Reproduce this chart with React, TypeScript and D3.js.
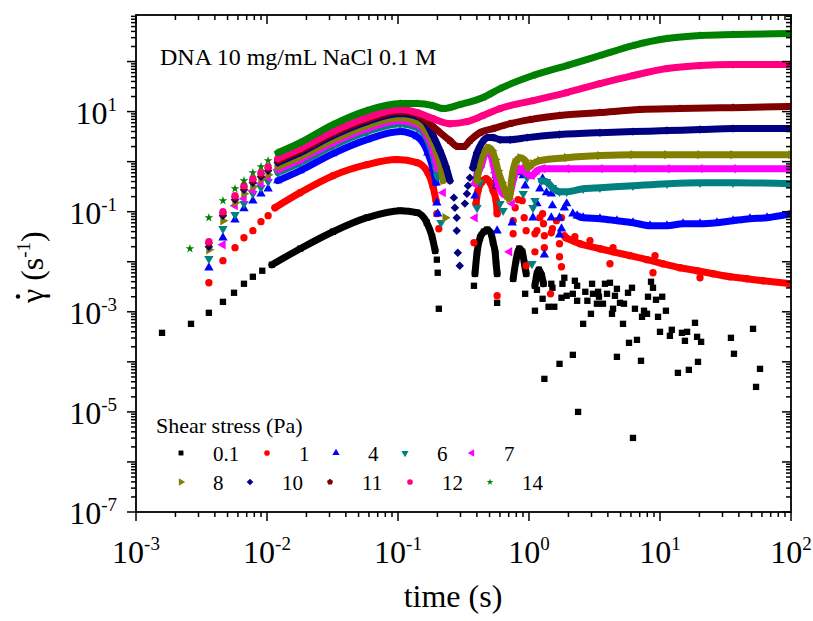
import React from 'react';
import * as d3 from 'd3';

type P = [number, number];

// ---------------- tick labels / categories ----------------
const xTickExps = [-3, -2, -1, 0, 1, 2];
const yTickExps = [-7, -5, -3, -1, 1];
const seriesLabels = ['0.1', '1', '4', '6', '7', '8', '10', '11', '12', '14'];
const seriesColors = ['#000000', '#FF0000', '#0000FF', '#008080', '#FF00FF', '#808000', '#000080', '#800000', '#FF0080', '#008000'];
const seriesSymbols = ['square', 'circle', 'triUp', 'triDown', 'triLeft', 'triRight', 'diamond', 'pentagon', 'circle', 'star'];

// ---------------- data: [time (s), shear rate (1/s)] ----------------
// 0.1 Pa
const blackScatter: P[] = [
  [1.58e-3, 3.8e-4], [2.63e-3, 5.75e-4], [3.6e-3, 9.55e-4], [4.61e-3, 1.58e-3], [5.6e-3, 2.4e-3], [6.67e-3, 3.63e-3], [7.8e-3, 5.01e-3], [9.2e-3, 6.61e-3],
  [0.198, 0.011], [0.201, 0.00603], [0.205, 0.00115], [0.38, 0.00331], [0.571, 0.00151], [0.935, 0.00229],
  [1.11, 0.00105], [1.15, 0.00275], [1.27, 0.00182], [1.31, 4.57e-5], [1.41, 0.00126], [1.48, 0.00363], [1.51, 0.00302], [1.56, 0.00126],
  [1.71, 9.12e-5], [1.77, 0.00191], [1.8, 0.00363], [1.86, 0.00479], [1.94, 0.00209], [2.16, 1.38e-4], [2.16, 0.00229], [2.24, 0.00417],
  [2.33, 0.00331], [2.33, 0.00166], [2.37, 1e-5], [2.59, 5.75e-4], [2.69, 0.00251], [2.79, 0.00166], [2.97, 9.12e-4], [3.03, 0.00363],
  [3.08, 0.00229], [3.3, 0.00145], [3.37, 0.00251], [3.42, 0.002], [3.67, 0.00145], [3.8, 0.00363], [3.94, 0.00229], [4.15, 0.0038],
  [4.3, 9.12e-4], [4.38, 0.00115], [4.53, 0.00209], [4.69, 0.00288], [4.69, 1.26e-4], [4.95, 0.00151], [5.22, 5.75e-4], [5.31, 0.00145],
  [5.7, 0.0024], [5.8, 2.4e-4], [6.11, 0.00302], [6.22, 3.02e-6], [6.44, 0.00115], [6.67, 2.75e-4], [7.16, 1.05e-4], [7.29, 7.94e-4],
  [7.55, 0.00105], [7.96, 9.12e-4], [8.1, 0.002], [8.54, 0.00398], [8.84, 0.00302], [9.32, 0.00174], [9.66, 7.94e-4], [10.0, 3.98e-4],
  [10.4, 0.002], [11.1, 0.00105], [11.9, 3.31e-4], [12.3, 4.37e-4], [13.7, 6.03e-5], [14.7, 3.8e-4], [15.5, 2.63e-4], [16.1, 3.98e-4],
  [16.6, 6.92e-5], [18.5, 6.03e-4], [19.2, 3.16e-4], [19.5, 1e-4], [20.6, 2.51e-4], [34.8, 3.02e-4], [36.7, 1.45e-4], [51.3, 4.57e-4],
  [54.1, 3.16e-5], [58.0, 7.24e-5],
];
const blackDense: P[][] = [
  [[1.09e-2, 8.71e-3], [1.79e-2, 1.82e-2], [3.19e-2, 0.0398], [5.79e-2, 0.0759], [0.104, 0.105], [0.14, 0.0955], [0.166, 0.0603], [0.182, 0.0316], [0.192, 0.0166]],
  [[0.387, 0.00575], [0.401, 0.0151], [0.423, 0.0302], [0.453, 0.0398], [0.479, 0.0437], [0.514, 0.0363], [0.532, 0.024], [0.552, 0.0151], [0.561, 0.00912], [0.571, 0.00575]],
  [[0.757, 0.00457], [0.796, 0.0105], [0.841, 0.0182], [0.888, 0.0158], [0.919, 0.00955], [0.951, 0.00575]],
  [[1.11, 0.00331], [1.15, 0.00575], [1.19, 0.00692], [1.25, 0.00525], [1.29, 0.00363]],
];
// 1 Pa
const redScatter: P[] = [
  [3.6e-3, 0.0038], [4.61e-3, 0.0105], [5.7e-3, 0.0191], [6.67e-3, 0.0302], [7.8e-3, 0.0417], [9.0e-3, 0.0631], [1.02e-2, 0.0832],
  [0.198, 0.0912], [0.205, 0.0457], [0.38, 0.024], [0.571, 0.00209], [0.757, 0.0661], [0.785, 0.12], [0.827, 0.174], [0.888, 0.166],
  [0.919, 0.0759], [0.951, 0.0417], [0.757, 0.0363], [0.951, 0.00832], [1.11, 0.0158], [1.15, 0.0417], [1.21, 0.0759], [1.27, 0.0912],
  [1.29, 0.0575], [1.31, 0.0331], [1.31, 0.0191], [1.46, 0.00229], [1.11, 0.0363], [1.48, 0.038], [1.51, 0.0457], [1.62, 0.0661],
  [1.77, 0.0759], [1.71, 0.0229], [1.71, 0.0126], [1.77, 0.00794], [1.86, 0.0331], [4.15, 0.00912], [4.38, 0.0191], [8.84, 0.00603],
  [9.16, 0.0132], [20.2, 0.00479], [2.92, 0.0263], [2.24, 0.0316],
];
const redDense: P[][] = [
  [[1.15e-2, 0.12], [1.79e-2, 0.24], [3.19e-2, 0.525], [5.79e-2, 0.871], [0.098, 1.1], [0.14, 0.955], [0.169, 0.603], [0.185, 0.316], [0.195, 0.166]],
  [[0.394, 0.145], [0.408, 0.263], [0.438, 0.398], [0.47, 0.457], [0.505, 0.38], [0.532, 0.263], [0.561, 0.166], [0.571, 0.0912]],
  [[1.91, 0.0302], [2.45, 0.0229], [3.48, 0.0182], [4.38, 0.0158], [5.9, 0.0132], [7.96, 0.011], [10.5, 0.00912], [14.2, 0.00759],
   [19.2, 0.00661], [25.4, 0.00575], [34.2, 0.00501], [46.1, 0.00457], [61.1, 0.00417], [100, 0.00363]],
];
// 4 Pa
const blueScatter: P[] = [
  [3.6e-3, 0.00759], [4.61e-3, 0.0302], [5.7e-3, 0.0692], [6.67e-3, 0.115], [7.8e-3, 0.166], [9.0e-3, 0.229], [1.02e-2, 0.288],
  [0.198, 0.151], [0.201, 0.0912], [0.387, 0.209], [0.571, 0.0417], [0.744, 0.0603], [0.856, 0.603], [0.903, 0.525], [0.935, 0.331],
  [1.072, 0.0759], [1.15, 0.145], [1.21, 0.288], [1.27, 0.457], [1.36, 0.24], [1.48, 0.229], [1.51, 0.132], [1.48, 0.0759],
  [1.71, 0.0759], [1.77, 0.0457], [1.86, 0.12], [1.94, 0.145], [2.16, 0.0912], [1.31, 0.0138], [1.71, 0.0347],
];
const blueDense: P[][] = [
  [[1.21e-2, 0.417], [1.79e-2, 0.661], [3.19e-2, 1.45], [5.79e-2, 2.75], [0.104, 3.98], [0.14, 3.16], [0.169, 1.51], [0.185, 0.724], [0.195, 0.38]],
  [[0.401, 0.525], [0.415, 0.955], [0.446, 1.38], [0.479, 1.74], [0.514, 1.45], [0.541, 0.912], [0.561, 0.525], [0.571, 0.331]],
  [[2.33, 0.0832], [2.59, 0.0759], [3.48, 0.0724], [4.69, 0.0661], [6.22, 0.0603], [8.39, 0.0525], [11.3, 0.0525], [15.0, 0.0575],
   [20.2, 0.0575], [27.2, 0.0603], [36.1, 0.0661], [48.6, 0.0724], [65.6, 0.0759], [100, 0.0912]],
];
// 6 Pa
const tealScatter: P[] = [
  [3.6e-3, 0.0115], [4.61e-3, 0.0457], [5.7e-3, 0.0871], [6.67e-3, 0.145], [7.8e-3, 0.229], [9.0e-3, 0.302], [1.02e-2, 0.398],
  [0.213, 0.0603], [0.401, 0.12], [0.423, 0.38], [0.601, 0.145], [0.634, 0.105], [0.903, 0.229], [1.072, 0.12], [1.054, 0.00912],
  [0.813, 0.661], [0.968, 0.479], [1.11, 0.166],
];
const tealDense: P[][] = [
  [[1.21e-2, 0.603], [1.79e-2, 0.955], [3.19e-2, 2.09], [5.79e-2, 3.98], [0.104, 5.75], [0.14, 4.79], [0.169, 2.63], [0.188, 1.15], [0.201, 0.501]],
  [[1.25, 0.417], [1.36, 0.398], [1.51, 0.302], [1.71, 0.251], [1.94, 0.251], [2.59, 0.288], [3.48, 0.302], [6.22, 0.331],
   [11.3, 0.363], [20.2, 0.38], [36.1, 0.38], [100, 0.363]],
];
// 7 Pa
const magentaScatter: P[] = [
  [4.61e-3, 0.0219], [5.7e-3, 0.132], [6.67e-3, 0.182], [7.8e-3, 0.263], [9.0e-3, 0.363], [1.02e-2, 0.479],
  [0.221, 0.24], [0.387, 0.0759], [0.71, 0.0158], [0.744, 0.145],
];
const magentaDense: P[][] = [
  [[1.21e-2, 0.692], [1.79e-2, 1.1], [3.19e-2, 2.4], [5.79e-2, 4.57], [0.104, 6.61], [0.14, 5.5], [0.169, 3.16], [0.188, 1.51], [0.201, 0.724]],
  [[0.387, 0.363], [0.408, 0.575], [0.438, 0.912], [0.47, 1.66], [0.505, 1.45], [0.552, 0.603], [0.59, 0.316], [0.644, 0.219],
   [0.703, 0.209], [0.757, 0.417], [0.813, 0.724], [0.856, 0.661], [0.903, 0.759], [0.968, 0.575], [1.054, 0.525], [1.15, 0.661],
   [1.27, 0.724], [1.94, 0.724], [3.48, 0.724], [6.22, 0.724], [11.3, 0.724], [20.2, 0.724], [36.1, 0.724], [100, 0.724]],
];
// 8 Pa
const oliveScatter: P[] = [
  [3.6e-3, 0.0174], [4.61e-3, 0.0661], [5.7e-3, 0.151], [6.67e-3, 0.229], [7.8e-3, 0.316], [9.0e-3, 0.437], [1.02e-2, 0.55],
  [0.229, 0.0759],
];
const oliveDense: P[][] = [
  [[1.21e-2, 0.794], [1.79e-2, 1.26], [3.19e-2, 2.75], [5.79e-2, 5.25], [0.104, 7.59], [0.135, 6.61], [0.161, 4.57], [0.182, 2.63],
   [0.198, 1.45], [0.213, 0.759], [0.221, 0.417]],
  [[0.401, 0.417], [0.423, 0.955], [0.462, 1.58], [0.487, 1.91], [0.523, 1.66], [0.552, 1.1], [0.58, 0.661], [0.623, 0.38],
   [0.68, 0.209], [0.705, 0.182], [0.744, 0.525], [0.785, 0.955], [0.856, 1.2], [0.935, 1.05], [0.985, 0.759], [1.072, 0.912],
   [1.21, 1.05], [1.94, 1.2], [3.48, 1.32], [6.22, 1.38], [11.3, 1.38], [20.2, 1.38], [36.1, 1.38], [100, 1.38]],
];
// 10 Pa
const navyScatter: P[] = [
  [3.6e-3, 0.02], [4.61e-3, 0.0832], [5.7e-3, 0.174], [6.67e-3, 0.275], [7.8e-3, 0.38], [9.0e-3, 0.501], [1.02e-2, 0.661],
  [0.267, 0.191], [0.272, 0.12], [0.281, 0.0759], [0.281, 0.0417], [0.286, 0.0151], [0.296, 0.00832],
  [0.324, 0.145], [0.336, 0.229], [0.342, 0.331], [0.354, 0.479],
];
const navyDense: P[][] = [
  [[1.21e-2, 0.955], [1.79e-2, 1.51], [3.19e-2, 3.31], [5.79e-2, 6.31], [0.104, 9.12], [0.135, 8.32], [0.161, 6.31], [0.185, 3.31],
   [0.209, 1.66], [0.232, 0.794], [0.249, 0.417]],
  [[0.373, 0.759], [0.401, 1.51], [0.438, 2.4], [0.479, 3.02], [0.532, 3.02], [0.601, 2.75], [0.718, 2.75], [0.968, 3.02],
   [1.71, 3.47], [3.48, 3.8], [6.22, 3.98], [11.3, 4.17], [20.2, 4.37], [36.1, 4.57], [100, 4.57]],
];
// 11 Pa
const maroonScatter: P[] = [
  [3.6e-3, 0.0229], [4.61e-3, 0.0912], [5.7e-3, 0.191], [6.67e-3, 0.302], [7.8e-3, 0.417], [9.0e-3, 0.55], [1.02e-2, 0.724],
];
const maroonDense: P[][] = [
  [[1.21e-2, 1.05], [1.79e-2, 1.66], [3.19e-2, 3.63], [5.79e-2, 6.92], [0.104, 10], [0.135, 9.12], [0.161, 6.92], [0.201, 4.17],
   [0.249, 2.63], [0.286, 2.0], [0.319, 2.0], [0.354, 2.63], [0.423, 3.8], [0.532, 4.57], [0.718, 5.75], [1.02, 6.92],
   [1.71, 8.32], [3.48, 9.55], [7.03, 11.0], [14.2, 11.5], [36.1, 12.0], [100, 12.6]],
];
// 12 Pa
const pinkScatter: P[] = [
  [3.6e-3, 0.0251], [4.61e-3, 0.1], [5.7e-3, 0.209], [6.67e-3, 0.331], [7.8e-3, 0.457], [9.0e-3, 0.603], [1.02e-2, 0.794],
];
const pinkDense: P[][] = [
  [[1.21e-2, 1.15], [1.79e-2, 1.82], [3.19e-2, 3.98], [5.79e-2, 7.59], [0.104, 11.0], [0.14, 9.55], [0.185, 7.24], [0.249, 5.75],
   [0.336, 6.31], [0.446, 8.32], [0.601, 11.5], [1.072, 16.6], [1.94, 24.0], [3.48, 36.3], [6.22, 52.5], [11.3, 72.4],
   [20.2, 83.2], [36.1, 87.1], [100, 87.1]],
];
// 14 Pa
const greenScatter: P[] = [
  [2.58e-3, 0.0182], [3.6e-3, 0.0759], [4.61e-3, 0.166], [5.7e-3, 0.288], [6.67e-3, 0.417], [7.8e-3, 0.603], [9.0e-3, 0.794], [1.02e-2, 1.05],
];
const greenDense: P[][] = [
  [[1.21e-2, 1.51], [1.79e-2, 2.4], [3.19e-2, 5.5], [5.79e-2, 10.5], [0.104, 14.5], [0.14, 14.5], [0.185, 13.2], [0.221, 11.5],
   [0.296, 13.8], [0.446, 19.1], [0.601, 28.8], [1.072, 52.5], [1.94, 83.2], [3.48, 132], [6.22, 209], [11.3, 288],
   [20.2, 331], [36.1, 347], [100, 363]],
];

const seriesScatter = [blackScatter, redScatter, blueScatter, tealScatter, magentaScatter, oliveScatter, navyScatter, maroonScatter, pinkScatter, greenScatter];
const seriesDense = [blackDense, redDense, blueDense, tealDense, magentaDense, oliveDense, navyDense, maroonDense, pinkDense, greenDense];

// ---------------- layout ----------------
const W = 813;
const H = 621;
const L = 136, R = 791, T = 15, B = 512;
const FONT = "'Liberation Serif', 'Times New Roman', serif";

const symbolPentagon: d3.SymbolType = {
  draw(ctx: any, size: number) {
    const r = Math.sqrt(size / (2.5 * Math.sin((2 * Math.PI) / 5)));
    for (let i = 0; i < 5; i++) {
      const a = -Math.PI / 2 + (i * 2 * Math.PI) / 5;
      const px = r * Math.cos(a);
      const py = r * Math.sin(a);
      if (i === 0) ctx.moveTo(px, py);
      else ctx.lineTo(px, py);
    }
    ctx.closePath();
  },
};

const symbolDefs: Record<string, { type: d3.SymbolType; rot: number; size: number }> = {
  square: { type: d3.symbolSquare, rot: 0, size: 40 },
  circle: { type: d3.symbolCircle, rot: 0, size: 42 },
  triUp: { type: d3.symbolTriangle, rot: 0, size: 38 },
  triDown: { type: d3.symbolTriangle, rot: 180, size: 38 },
  triLeft: { type: d3.symbolTriangle, rot: -90, size: 38 },
  triRight: { type: d3.symbolTriangle, rot: 90, size: 38 },
  diamond: { type: d3.symbolSquare, rot: 45, size: 36 },
  pentagon: { type: symbolPentagon, rot: 0, size: 40 },
  star: { type: d3.symbolStar, rot: 0, size: 24 },
};

const legendRows = [
  { y: 453, xs: [181, 267, 336, 405, 472] },
  { y: 482, xs: [181, 250, 330, 410, 490] },
];

export default function App() {
  const x = d3.scaleLog().domain([1e-3, 1e2]).range([L, R]);
  const y = d3.scaleLog().domain([1e-7, Math.pow(10, 2.93)]).range([B, T]);

  const line = d3
    .line<P>()
    .x((d) => x(d[0]))
    .y((d) => y(d[1]))
    .curve(d3.curveMonotoneX);

  const xTicks = x.ticks();
  const yTicks: number[] = [];
  for (let e = -7; e <= 2; e++) {
    for (let k = 1; k <= 9; k++) {
      const v = k * Math.pow(10, e);
      if (v <= y.domain()[1]) yTicks.push(v);
    }
  }
  const isMajor = (v: number) => Math.abs(Math.log10(v) - Math.round(Math.log10(v))) < 1e-9;

  const legendItems = seriesLabels.map((lab, i) => {
    const row = i < 5 ? 0 : 1;
    return { lab, i, x: legendRows[row].xs[i % 5], y: legendRows[row].y };
  });

  return (
    <svg width={W} height={H} style={{ position: 'absolute', left: 0, top: 0, background: '#fff' }} fontFamily={FONT}>
      <defs>
        <clipPath id="plotclip">
          <rect x={L} y={T} width={R - L} height={B - T} />
        </clipPath>
      </defs>
      <rect x={0} y={0} width={W} height={H} fill="#fff" />

      <g clipPath="url(#plotclip)">
        {seriesLabels.map((lab, i) => {
          const col = seriesColors[i];
          const sd = symbolDefs[seriesSymbols[i]];
          const sp = d3.symbol().type(sd.type).size(sd.size)() || '';
          const pts: P[] = [...seriesScatter[i], ...seriesDense[i].flat()];
          return (
            <g key={lab}>
              {seriesDense[i].map((seg, j) => (
                <path key={j} d={line(seg) || ''} fill="none" stroke={col} strokeWidth={7} strokeLinejoin="round" strokeLinecap="round" />
              ))}
              {pts.map((p, k) => (
                <path key={k} d={sp} fill={col} transform={`translate(${x(p[0])},${y(p[1])}) rotate(${sd.rot})`} />
              ))}
            </g>
          );
        })}
      </g>

      {/* frame */}
      <rect x={L} y={T} width={R - L} height={B - T} fill="none" stroke="#000" strokeWidth={1.8} />

      {/* x ticks: bottom outward, top inward */}
      {xTicks.map((t, k) => {
        const len = isMajor(t) ? 9 : 5;
        const px = x(t);
        return (
          <g key={'xt' + k} stroke="#000" strokeWidth={1.5}>
            <line x1={px} x2={px} y1={B} y2={B + len} />
            <line x1={px} x2={px} y1={T} y2={T + len} />
          </g>
        );
      })}
      {/* y ticks: left outward, right inward */}
      {yTicks.map((v, k) => {
        const len = isMajor(v) ? 9 : 5;
        const py = y(v);
        return (
          <g key={'yt' + k} stroke="#000" strokeWidth={1.5}>
            <line x1={L - len} x2={L} y1={py} y2={py} />
            <line x1={R - len} x2={R} y1={py} y2={py} />
          </g>
        );
      })}

      {/* tick labels */}
      {xTickExps.map((e) => (
        <text key={'xl' + e} x={x(Math.pow(10, e))} y={563} textAnchor="middle" fontSize={32}>
          10<tspan dy={-13} fontSize={19}>{String(e)}</tspan>
        </text>
      ))}
      {yTickExps.map((e) => (
        <text key={'yl' + e} x={117} y={y(Math.pow(10, e)) + 12} textAnchor="end" fontSize={32}>
          10<tspan dy={-13} fontSize={19}>{String(e)}</tspan>
        </text>
      ))}

      {/* axis titles */}
      <text x={453} y={607} textAnchor="middle" fontSize={32}>time (s)</text>
      <g transform="translate(43,266) rotate(-90)">
        <text x={-37} y={0} textAnchor="start" fontSize={32}>
          {'\u03B3 (s'}
          <tspan dy={-13} fontSize={19}>-1</tspan>
          <tspan dy={13}>)</tspan>
        </text>
        <circle cx={-30.5} cy={-25} r={2.2} fill="#000" />
      </g>

      {/* annotation */}
      <text x={160} y={65} fontSize={24}>DNA 10 mg/mL NaCl 0.1 M</text>

      {/* legend */}
      <text x={156} y={433} fontSize={22}>Shear stress (Pa)</text>
      {legendItems.map((it) => {
        const sd = symbolDefs[seriesSymbols[it.i]];
        const sp = d3.symbol().type(sd.type).size(sd.size * 0.6)() || '';
        return (
          <g key={'lg' + it.lab}>
            <path d={sp} fill={seriesColors[it.i]} transform={`translate(${it.x},${it.y}) rotate(${sd.rot})`} />
            <text x={it.x + 32} y={it.y + 8} fontSize={21}>{it.lab}</text>
          </g>
        );
      })}
    </svg>
  );
}
